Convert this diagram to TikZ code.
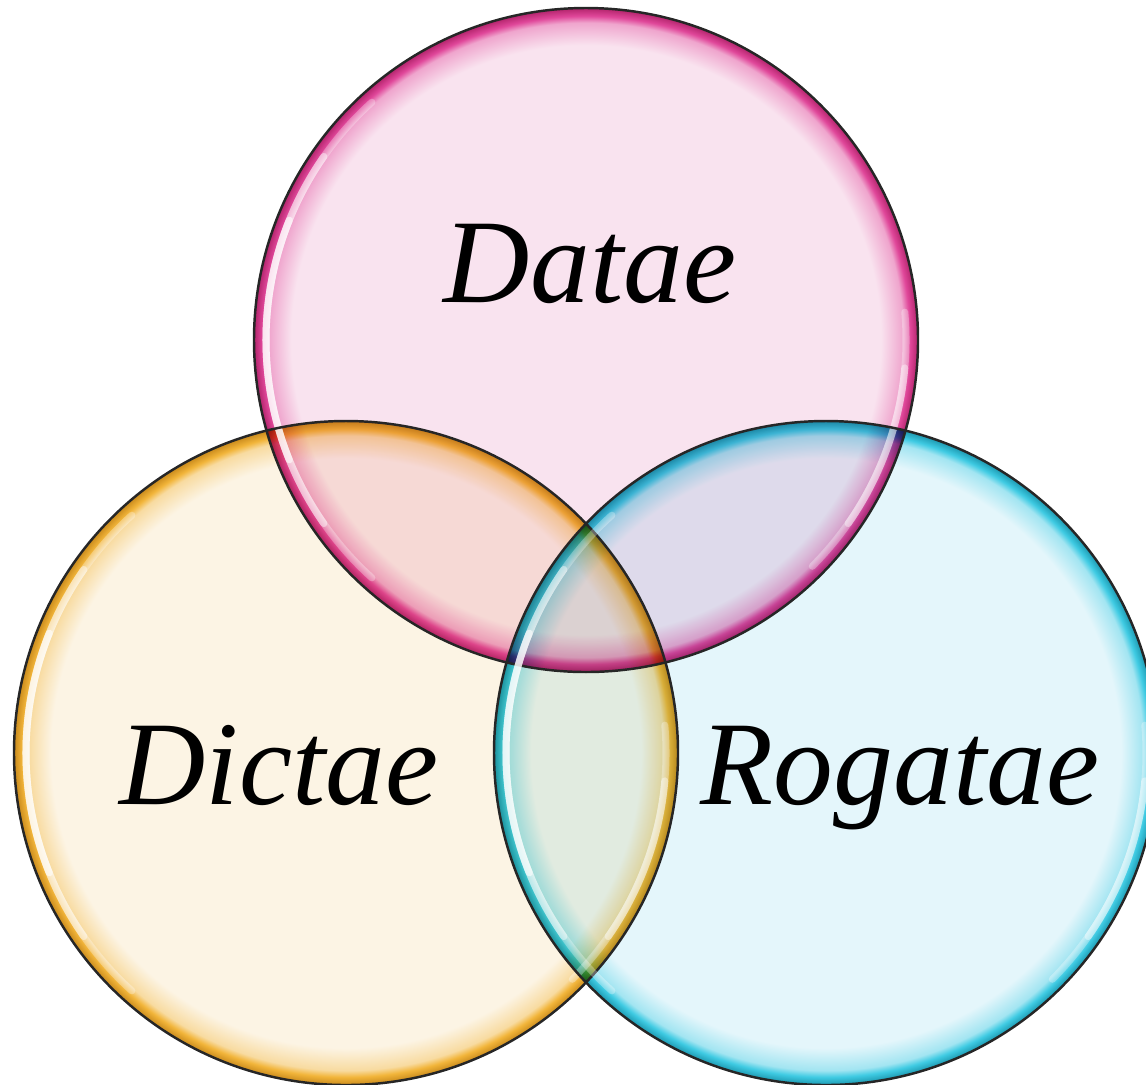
\documentclass[tikz,border=0pt]{standalone}
\usepackage{fontspec}
\setmainfont{Liberation Serif}
\usepackage{xcolor}
\usetikzlibrary{calc}

\definecolor{pinkfill}{HTML}{F9E3EF}
\definecolor{pinkrim}{HTML}{E0479A}
\definecolor{pinkdark}{HTML}{B3246C}
\definecolor{orangefill}{HTML}{FCF4E4}
\definecolor{orangerim}{HTML}{F2B53A}
\definecolor{orangedark}{HTML}{C98A1C}
\definecolor{cyanfill}{HTML}{E4F6FB}
\definecolor{cyanrim}{HTML}{3FCBE3}
\definecolor{cyandark}{HTML}{1C98B0}

% glassy discs: pale inside, coloured rim at the edge
\pgfdeclareradialshading{pinkglass}{\pgfpoint{0bp}{0bp}}{%
  color(0bp)=(pinkfill); color(22.2bp)=(pinkfill);
  color(23.9bp)=(pinkrim!40!pinkfill); color(24.4bp)=(pinkrim);
  color(25bp)=(pinkdark); color(50bp)=(pinkdark)}
\pgfdeclareradialshading{orangeglass}{\pgfpoint{0bp}{0bp}}{%
  color(0bp)=(orangefill); color(22.2bp)=(orangefill);
  color(23.9bp)=(orangerim!40!orangefill); color(24.4bp)=(orangerim);
  color(25bp)=(orangedark); color(50bp)=(orangedark)}
\pgfdeclareradialshading{cyanglass}{\pgfpoint{0bp}{0bp}}{%
  color(0bp)=(cyanfill); color(22.2bp)=(cyanfill);
  color(23.9bp)=(cyanrim!40!cyanfill); color(24.4bp)=(cyanrim);
  color(25bp)=(cyandark); color(50bp)=(cyandark)}

\tikzset{
  rimline/.style={draw=black!85, line width=0.7pt},
  shine/.style={white, line cap=round, line width=2pt},
  vennlabel/.style={font=\fontsize{34}{40}\selectfont\itshape, anchor=base, inner sep=0pt}
}

\begin{document}
\begin{tikzpicture}[x=0.01cm,y=0.01cm]
	\useasboundingbox (0,0) rectangle (1146,-1084);
	\clip (0,0) rectangle (1146,-1084);
	
	% centres of the three sets
	\coordinate (datc) at (586,-340);
	\coordinate (dicc) at (346,-753);
	\coordinate (rogc) at (826,-753);
	
	% tinted discs, multiplied where they overlap
	\begin{scope}[blend group=multiply]
		\shade[shading=pinkglass] (datc) circle[radius=332];
		\shade[shading=orangeglass] (dicc) circle[radius=332];
		\shade[shading=cyanglass] (rogc) circle[radius=332];
	\end{scope}
	
	% highlights and outlines
	\foreach \c in {datc,dicc,rogc}{
		\draw[shine, opacity=0.3] (\c) ++(132:320) arc[start angle=132, end angle=228, radius=320];
		\draw[shine, opacity=0.45] (\c) ++(145:320) arc[start angle=145, end angle=215, radius=320];
		\draw[shine, opacity=0.6] (\c) ++(158:320) arc[start angle=158, end angle=202, radius=320];
		\draw[shine, opacity=0.3] (\c) ++(-45:320) arc[start angle=-45, end angle=5, radius=320];
		\draw[shine, opacity=0.4] (\c) ++(-35:320) arc[start angle=-35, end angle=-5, radius=320];
		\draw[rimline] (\c) circle[radius=332];
	}
	
	% set names
	\node[vennlabel] (datae) at (590,-302) {Datae};
	\node[vennlabel] (dictae) at (279,-804) {Dictae};
	\node[vennlabel] (rogatae) at (900,-804) {Rogatae};
\end{tikzpicture}
\end{document}
